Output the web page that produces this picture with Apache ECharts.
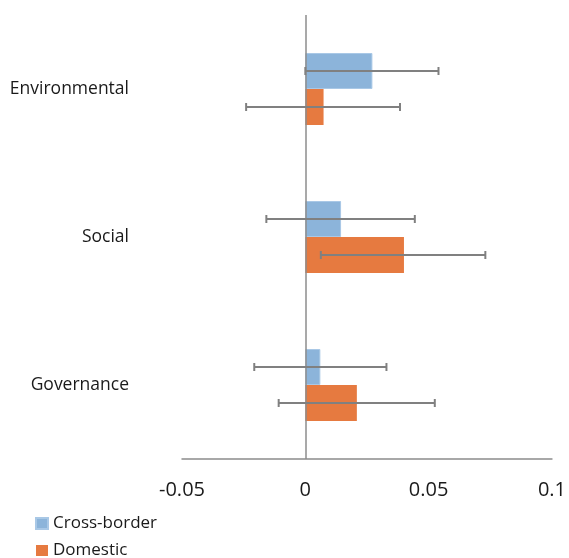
<!DOCTYPE html>
<html>
<head>
<meta charset="utf-8">
<script src="https://cdn.jsdelivr.net/npm/echarts@6/dist/echarts.min.js"></script>
<style>html,body{margin:0;padding:0;background:#fff;}#c{width:569px;height:558px;}</style>
</head>
<body>
<div id="c"></div>
<script>
const categories = ['Environmental', 'Social', 'Governance'];
const seriesNames = ['Cross-border', 'Domestic'];
const crossBorder = [0.0272, 0.0145, 0.0061];
const domestic = [0.0074, 0.0400, 0.0209];
const crossBorderLow = [0.0, -0.0158, -0.0207];
const crossBorderHigh = [0.054, 0.0444, 0.0329];
const domesticLow = [-0.024, 0.0063, -0.0108];
const domesticHigh = [0.0384, 0.073, 0.0525];
const xTicks = { min: -0.05, max: 0.1, interval: 0.05 };

const FONT = 'Open Sans';
const BAR_W = 36;

function errData(lo, hi) {
  return categories.map((c, i) => [lo[i], hi[i], i]);
}
function errRender(offset) {
  return function (params, api) {
    const y = api.value(2);
    const p1 = api.coord([api.value(0), y]);
    const p2 = api.coord([api.value(1), y]);
    const yy = p1[1] + offset;
    const cap = 4;
    const style = { stroke: '#808080', lineWidth: 2 };
    return {
      type: 'group',
      children: [
        { type: 'line', shape: { x1: p1[0], y1: yy, x2: p2[0], y2: yy }, style: style },
        { type: 'line', shape: { x1: p1[0], y1: yy - cap, x2: p1[0], y2: yy + cap }, style: style },
        { type: 'line', shape: { x1: p2[0], y1: yy - cap, x2: p2[0], y2: yy + cap }, style: style }
      ]
    };
  };
}

const chart = echarts.init(document.getElementById('c'));
chart.setOption({
  animation: false,
  textStyle: { fontFamily: FONT },
  grid: { left: 182, right: 8, top: 15, bottom: 99, containLabel: false },
  legend: {
    data: seriesNames,
    orient: 'vertical',
    left: 35,
    top: 515,
    height: 120,
    padding: 0,
    icon: 'rect',
    itemWidth: 12,
    itemHeight: 11,
    itemGap: 10,
    textStyle: { fontFamily: FONT, fontSize: 17, color: '#1a1a1a' }
  },
  xAxis: {
    type: 'value',
    min: xTicks.min,
    max: xTicks.max,
    interval: xTicks.interval,
    axisLine: { show: true, onZero: false, lineStyle: { color: '#8c8c8c', width: 1.5 } },
    axisTick: { show: false },
    splitLine: { show: false },
    axisLabel: { fontFamily: FONT, fontSize: 20, color: '#1a1a1a', margin: 21 }
  },
  yAxis: {
    type: 'category',
    data: categories,
    inverse: true,
    axisLine: { show: false },
    axisTick: { show: false },
    axisLabel: { fontFamily: FONT, fontSize: 17.5, color: '#1a1a1a', margin: 53 }
  },
  series: [
    {
      name: seriesNames[0],
      type: 'bar',
      data: crossBorder,
      barWidth: BAR_W,
      barGap: '0%',
      itemStyle: { color: '#8cb4da', borderColor: '#a9c8e6', borderWidth: 1 },
      markLine: {
        silent: true,
        symbol: 'none',
        z: 10,
        label: { show: false },
        lineStyle: { color: '#8c8c8c', width: 1.5, type: 'solid' },
        data: [{ xAxis: 0 }]
      }
    },
    {
      name: seriesNames[1],
      type: 'bar',
      data: domestic,
      barWidth: BAR_W,
      barGap: '0%',
      itemStyle: { color: '#e67a40' }
    },
    {
      type: 'custom',
      name: 'err-cb',
      data: errData(crossBorderLow, crossBorderHigh),
      encode: { x: [0, 1], y: 2 },
      renderItem: errRender(-BAR_W / 2),
      z: 20,
      silent: true
    },
    {
      type: 'custom',
      name: 'err-dom',
      data: errData(domesticLow, domesticHigh),
      encode: { x: [0, 1], y: 2 },
      renderItem: errRender(BAR_W / 2),
      z: 20,
      silent: true
    }
  ]
});
</script>
</body>
</html>
